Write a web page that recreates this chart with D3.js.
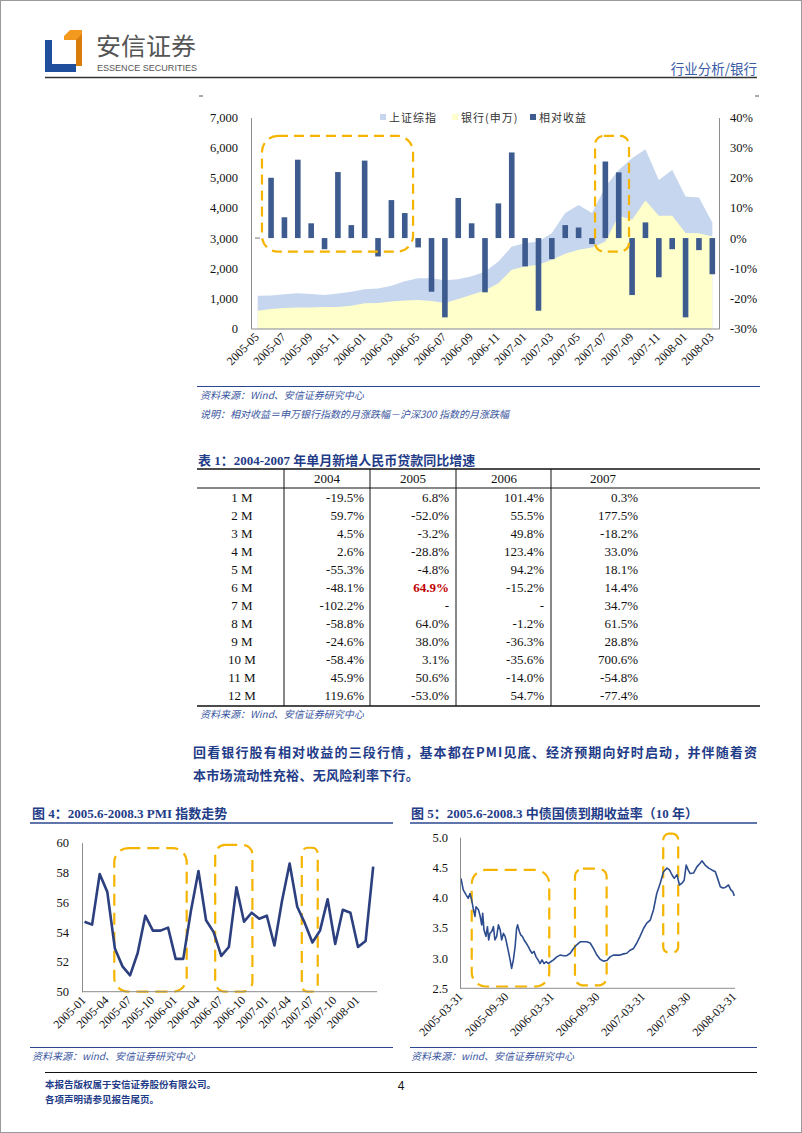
<!DOCTYPE html>
<html><head><meta charset="utf-8">
<script src="https://cdn.jsdelivr.net/npm/d3@7"></script>
<style>body{margin:0;background:#fff}svg{display:block}</style>
</head><body>
<svg id="page" width="802" height="1133"></svg>
<script>
// ---------- DATA ----------
const topMonths = ["2005-05","2005-06","2005-07","2005-08","2005-09","2005-10","2005-11","2005-12",
  "2006-01","2006-02","2006-03","2006-04","2006-05","2006-06","2006-07","2006-08","2006-09","2006-10","2006-11","2006-12",
  "2007-01","2007-02","2007-03","2007-04","2007-05","2007-06","2007-07","2007-08","2007-09","2007-10","2007-11","2007-12",
  "2008-01","2008-02","2008-03"];
const topTicks = ["2005-05","2005-07","2005-09","2005-11","2006-01","2006-03","2006-05","2006-07","2006-09",
  "2006-11","2007-01","2007-03","2007-05","2007-07","2007-09","2007-11","2008-01","2008-03"];
const shIndex = [1090,1095,1140,1170,1145,1110,1160,1220,1300,1330,1420,1570,1665,1670,1600,1630,1730,1880,
  2220,2720,2830,2890,3170,3830,4100,3830,4700,5260,5650,5950,4930,5260,4380,4350,3520];
const bankIndex = [590,645,680,698,698,712,712,755,840,845,898,930,944,910,845,975,1120,1260,
  1505,1950,2060,2115,2280,2480,2610,2690,2890,3740,3610,4250,3740,3740,3170,3160,3050];
const relReturn = [null,20.0,6.9,26.0,4.9,-3.7,21.9,4.3,25.7,-6.1,12.6,8.3,-3.1,-17.8,-26.3,13.3,4.9,-18.0,
  11.5,28.4,-9.4,-24.1,-7.0,4.3,3.5,-2.0,25.4,21.8,-18.9,5.2,-13.0,-3.7,-26.3,-4.0,-12.0];
const leftTicks = [0,1000,2000,3000,4000,5000,6000,7000];
const rightTicks = [-30,-20,-10,0,10,20,30,40];
const legendLabels = ["上证综指","银行(申万)","相对收益"];
const topBoxes = [{from:0.32,to:11.62,lo:-4.5,hi:33.9,r:16},{from:25.23,to:27.77,lo:-4.5,hi:33.9,r:9}];

const tableYears = ["2004","2005","2006","2007"];
const tableRows = ["1 M","2 M","3 M","4 M","5 M","6 M","7 M","8 M","9 M","10 M","11 M","12 M"];
const loan2004 = ["-19.5%","59.7%","4.5%","2.6%","-55.3%","-48.1%","-102.2%","-58.8%","-24.6%","-58.4%","45.9%","119.6%"];
const loan2005 = ["6.8%","-52.0%","-3.2%","-28.8%","-4.8%","64.9%","-","64.0%","38.0%","3.1%","50.6%","-53.0%"];
const loan2006 = ["101.4%","55.5%","49.8%","123.4%","94.2%","-15.2%","-","-1.2%","-36.3%","-35.6%","-14.0%","54.7%"];
const loan2007 = ["0.3%","177.5%","-18.2%","33.0%","18.1%","14.4%","34.7%","61.5%","28.8%","700.6%","-54.8%","-77.4%"];

const pmiMonths = ["2005-01","2005-02","2005-03","2005-04","2005-05","2005-06","2005-07","2005-08","2005-09","2005-10","2005-11","2005-12",
  "2006-01","2006-02","2006-03","2006-04","2006-05","2006-06","2006-07","2006-08","2006-09","2006-10","2006-11","2006-12",
  "2007-01","2007-02","2007-03","2007-04","2007-05","2007-06","2007-07","2007-08","2007-09","2007-10","2007-11","2007-12",
  "2008-01","2008-02","2008-03"];
const pmiTicks = ["2005-01","2005-04","2005-07","2005-10","2006-01","2006-04","2006-07","2006-10","2007-01","2007-04","2007-07","2007-10","2008-01"];
const pmiValues = [54.7,54.5,57.9,56.7,52.9,51.7,51.1,52.6,55.1,54.1,54.1,54.3,52.2,52.2,55.4,58.1,54.8,54.0,52.4,53.0,57.0,54.7,55.3,54.9,
  55.1,53.1,56.1,58.6,55.7,54.6,53.3,54.1,56.2,53.2,55.5,55.3,53.0,53.4,58.4];
const pmiYTicks = [50,52,54,56,58,60];
const pmiBoxes = [{from:3.92,to:13.45,lo:50,hi:59.64,r:14},{from:17.2,to:22.1,lo:50,hi:59.85,r:10},{from:28.6,to:30.7,lo:50,hi:59.66,r:6}];

const bondDates = ["2005-03-31","2005-04-09","2005-04-20","2005-04-29","2005-05-06","2005-05-13","2005-05-20","2005-05-26","2005-05-30",
  "2005-06-09","2005-06-15","2005-06-22","2005-06-26","2005-07-01","2005-07-09","2005-07-15","2005-07-20","2005-07-25","2005-08-01",
  "2005-08-08","2005-08-14","2005-08-21","2005-08-28","2005-09-04","2005-09-10","2005-09-17","2005-09-24","2005-09-30","2005-10-07",
  "2005-10-14","2005-10-20","2005-10-27","2005-11-03","2005-11-09","2005-11-13","2005-11-20","2005-11-26","2005-12-02","2005-12-09",
  "2005-12-17","2005-12-26","2006-01-02","2006-01-10","2006-01-18","2006-01-26","2006-02-03","2006-02-11","2006-02-19","2006-02-27",
  "2006-03-07","2006-03-17","2006-03-26","2006-04-06","2006-04-19","2006-05-02","2006-05-16","2006-05-29","2006-06-12","2006-06-25",
  "2006-07-08","2006-07-22","2006-08-04","2006-08-17","2006-08-31","2006-09-13","2006-09-27","2006-10-10","2006-10-23","2006-11-06",
  "2006-11-19","2006-12-02","2006-12-16","2006-12-29","2007-01-12","2007-01-25","2007-02-07","2007-02-21","2007-03-06","2007-03-19",
  "2007-04-02","2007-04-15","2007-04-29","2007-05-12","2007-05-25","2007-06-08","2007-06-21","2007-07-05","2007-07-15","2007-07-25",
  "2007-08-03","2007-08-14","2007-08-24","2007-09-03","2007-09-12","2007-09-20","2007-09-28","2007-10-06","2007-10-20","2007-11-02",
  "2007-11-15","2007-11-22","2007-12-05","2007-12-19","2008-01-01","2008-01-15","2008-01-24","2008-02-04","2008-02-14","2008-02-24",
  "2008-03-08","2008-03-17","2008-03-25","2008-03-31"];
const bondYield = [4.32,4.13,4.05,3.99,4.07,3.96,3.80,3.69,3.85,
  3.80,3.71,3.55,3.74,3.47,3.36,3.52,3.30,3.41,3.44,
  3.52,3.30,3.36,3.55,3.47,3.30,3.41,3.36,3.25,3.11,
  2.97,2.83,2.97,3.19,3.49,3.55,3.44,3.38,3.36,3.30,
  3.25,3.19,3.13,3.08,3.11,3.02,2.97,2.91,2.97,2.91,
  2.94,2.91,2.94,2.97,3.02,3.05,3.04,3.04,3.08,3.16,
  3.22,3.27,3.27,3.27,3.25,3.16,3.05,2.98,2.95,2.96,
  3.02,3.05,3.05,3.05,3.07,3.08,3.13,3.16,3.25,3.36,
  3.49,3.58,3.63,3.80,4.07,4.24,4.43,4.49,4.46,4.38,
  4.32,4.38,4.21,4.24,4.29,4.54,4.46,4.40,4.41,4.51,
  4.57,4.61,4.54,4.49,4.46,4.43,4.32,4.18,4.16,4.17,
  4.21,4.13,4.10,4.03];
const bondYTicks = [2.5,3.0,3.5,4.0,4.5,5.0];
const bondTicks = ["2005-03-31","2005-09-30","2006-03-31","2006-09-30","2007-03-31","2007-09-30","2008-03-31"];
const bondBoxes = [{from:"2005-05-13",to:"2006-03-20",lo:2.53,hi:4.46,r:14},{from:"2006-07-01",to:"2006-11-05",lo:2.55,hi:4.48,r:8},{from:"2007-06-20",to:"2007-08-19",lo:3.09,hi:5.06,r:6}];

// ---------- STYLE ----------
const SERIF = "'Liberation Serif','Times New Roman','Noto Sans CJK SC',serif";
const CJK = "'Noto Sans CJK SC','Liberation Serif',sans-serif";
const NAVY = "#1f3c88";
const SRC = "#3a56a0";
const BOX = "#f4b400";
const svg = d3.select("#page");

svg.append("rect").attr("x",0.5).attr("y",0.5).attr("width",801).attr("height",1132).attr("fill","#fff").attr("stroke","#9a9a9a");

// ---------- HEADER ----------
const logo = svg.append("g");
logo.append("polygon").attr("points","45,40 52,40 52,64 76,64 76,72 45,72").attr("fill","#1f4e9c");
logo.append("polygon").attr("points","64,36 70,30 82,30 82,66 76,66 76,40 64,40").attr("fill","#f39a1e");
logo.append("polygon").attr("points","76,40 82,34 82,66 76,66").attr("fill","#d97c0a");
svg.append("text").attr("x",96).attr("y",55).attr("font-family",CJK).attr("font-size",24).attr("fill","#555")
  .attr("textLength",100).attr("lengthAdjust","spacingAndGlyphs").text("安信证券");
svg.append("text").attr("x",97).attr("y",71).attr("font-family","'Liberation Sans Narrow','Liberation Sans',sans-serif")
  .attr("font-size",9.5).attr("fill","#555").attr("textLength",100).attr("lengthAdjust","spacingAndGlyphs").text("ESSENCE SECURITIES");
svg.append("text").attr("x",757).attr("y",74).attr("text-anchor","end").attr("font-family",CJK).attr("font-size",13.5).attr("fill","#3a5ba5").text("行业分析/银行");
svg.append("line").attr("x1",45).attr("x2",757).attr("y1",77.5).attr("y2",77.5).attr("stroke","#333").attr("stroke-width",1.6);
svg.append("line").attr("x1",199).attr("x2",203).attr("y1",96).attr("y2",96).attr("stroke","#555");
svg.append("line").attr("x1",755).attr("x2",759).attr("y1",96).attr("y2",96).attr("stroke","#555");

// ---------- TOP CHART ----------
const xTop = d3.scaleBand().domain(topMonths).range([251,719]);
const cTop = m => xTop(m) + xTop.bandwidth()/2;
const cTopIdx = k => cTop(topMonths[0]) + k*xTop.step();
const yL = d3.scaleLinear().domain([0,7000]).range([328.5,117.5]);
const yR = d3.scaleLinear().domain([-30,40]).range([328.5,117.5]);
const topG = svg.append("g");
const areaGen = d3.area().x(d=>cTop(d.m)).y0(yL(0)).y1(d=>yL(d.v));
topG.append("path").datum(topMonths.map((m,i)=>({m,v:shIndex[i]}))).attr("d",areaGen).attr("fill","#c6d6ee");
topG.append("path").datum(topMonths.map((m,i)=>({m,v:bankIndex[i]}))).attr("d",areaGen).attr("fill","#ffffcc");
topG.selectAll("rect.bar").data(topMonths.map((m,i)=>({m,v:relReturn[i]})).filter(d=>d.v!==null))
  .enter().append("rect").attr("class","bar")
  .attr("x",d=>cTop(d.m)-2.8).attr("width",5.6)
  .attr("y",d=>yR(Math.max(0,d.v))).attr("height",d=>Math.abs(yR(d.v)-yR(0)))
  .attr("fill","#3d5b8e");
topG.append("line").attr("x1",255).attr("x2",260).attr("y1",yR(0)).attr("y2",yR(0)).attr("stroke","#777");
topG.selectAll("rect.box").data(topBoxes).enter().append("rect").attr("class","box")
  .attr("x",d=>cTopIdx(d.from)).attr("width",d=>cTopIdx(d.to)-cTopIdx(d.from))
  .attr("y",d=>yR(d.hi)).attr("height",d=>yR(d.lo)-yR(d.hi)).attr("rx",d=>d.r)
  .attr("fill","none").attr("stroke",BOX).attr("stroke-width",2.2).attr("stroke-dasharray","10,6");

function styleAxis(g){
  g.select(".domain").attr("stroke","#8c8c8c");
  g.selectAll("text").attr("font-family",SERIF).attr("fill","#111");
}
const axL = topG.append("g").attr("transform","translate(251,0)")
  .call(d3.axisLeft(yL).tickValues(leftTicks).tickFormat(d3.format(",")).tickSize(0).tickSizeOuter(0).tickPadding(13));
styleAxis(axL); axL.selectAll("text").attr("font-size",12.5);
const axR = topG.append("g").attr("transform","translate(719,0)")
  .call(d3.axisRight(yR).tickValues(rightTicks).tickFormat(d=>d+"%").tickSize(0).tickSizeOuter(0).tickPadding(11));
styleAxis(axR); axR.selectAll("text").attr("font-size",12.5);
const axB = topG.append("g").attr("transform","translate(0,328.5)")
  .call(d3.axisBottom(xTop).tickValues(topTicks).tickSize(0).tickSizeOuter(0));
styleAxis(axB);
axB.selectAll("text").attr("font-size",12).attr("text-anchor","end").attr("dy",null)
  .attr("x",-5).attr("y",8).attr("transform","rotate(-45)");

// legend
const lg = topG.append("g").attr("font-family",CJK).attr("font-size",11).attr("fill","#333");
const lgItems = [{x:380,c:"#c6d6ee"},{x:452,c:"#ffffcc"},{x:530,c:"#3d5b8e"}];
lgItems.forEach((it,i)=>{
  lg.append("rect").attr("x",it.x).attr("y",114).attr("width",6).attr("height",6).attr("fill",it.c);
  lg.append("text").attr("x",it.x+9).attr("y",121.5).attr("letter-spacing",1).text(legendLabels[i]);
});

svg.append("line").attr("x1",197).attr("x2",760).attr("y1",386.5).attr("y2",386.5).attr("stroke","#2b4790").attr("stroke-width",1);
svg.append("text").attr("x",200).attr("y",399).attr("font-family",CJK).attr("font-style","italic").attr("font-size",10).attr("fill",SRC).text("资料来源：Wind、安信证券研究中心");
svg.append("text").attr("x",200).attr("y",418).attr("font-family",CJK).attr("font-style","italic").attr("font-size",10).attr("fill",SRC).text("说明：相对收益＝申万银行指数的月涨跌幅－沪深300 指数的月涨跌幅");

// ---------- TABLE ----------
svg.append("text").attr("x",198).attr("y",465).attr("font-family",SERIF).attr("font-weight","bold").attr("font-size",13).attr("fill",NAVY)
  .text("表 1：2004-2007 年单月新增人民币贷款同比增速");
const tb = svg.append("g").attr("font-family",SERIF).attr("font-size",13).attr("fill","#111");
tb.append("line").attr("x1",197).attr("x2",760).attr("y1",469).attr("y2",469).attr("stroke","#111").attr("stroke-width",1.6);
tb.append("line").attr("x1",197).attr("x2",760).attr("y1",488).attr("y2",488).attr("stroke","#111").attr("stroke-width",1);
tb.append("line").attr("x1",197).attr("x2",760).attr("y1",706).attr("y2",706).attr("stroke","#111").attr("stroke-width",1.6);
const colLines = [284,370,456,551];
colLines.forEach(x=>tb.append("line").attr("x1",x).attr("x2",x).attr("y1",469).attr("y2",706).attr("stroke","#111").attr("stroke-width",1));
const headX = [327,413,504,603];
tableYears.forEach((y,i)=>tb.append("text").attr("x",headX[i]).attr("y",483).attr("text-anchor","middle").text(y));
const valX = [364,449,544,638];
const cols = [loan2004,loan2005,loan2006,loan2007];
tableRows.forEach((r,j)=>{
  const yy = 502 + j*18;
  tb.append("text").attr("x",242).attr("y",yy).attr("text-anchor","middle").text(r);
  cols.forEach((col,i)=>{
    const t = tb.append("text").attr("x",valX[i]).attr("y",yy).attr("text-anchor","end").text(col[j]);
    if(i===1 && j===5) t.attr("fill","#c00000").attr("font-weight","bold");
  });
});
svg.append("text").attr("x",200).attr("y",718).attr("font-family",CJK).attr("font-style","italic").attr("font-size",10).attr("fill",SRC).text("资料来源：Wind、安信证券研究中心");

// ---------- PARAGRAPH ----------
svg.append("text").attr("x",193).attr("y",757).attr("font-family",CJK).attr("font-weight","bold").attr("font-size",13).attr("fill",NAVY)
  .attr("textLength",564).attr("lengthAdjust","spacing").text("回看银行股有相对收益的三段行情，基本都在PMI见底、经济预期向好时启动，并伴随着资");
svg.append("text").attr("x",193).attr("y",780).attr("font-family",CJK).attr("font-weight","bold").attr("font-size",13).attr("fill",NAVY)
  .attr("letter-spacing",0.3).text("本市场流动性充裕、无风险利率下行。");

// ---------- FIGURE TITLES ----------
svg.append("text").attr("x",32).attr("y",818).attr("font-family",SERIF).attr("font-weight","bold").attr("font-size",13).attr("fill",NAVY).text("图 4：2005.6-2008.3 PMI 指数走势");
svg.append("line").attr("x1",30).attr("x2",393).attr("y1",823).attr("y2",823).attr("stroke","#2b4790").attr("stroke-width",1.5);
svg.append("text").attr("x",411).attr("y",818).attr("font-family",SERIF).attr("font-weight","bold").attr("font-size",13).attr("fill",NAVY).text("图 5：2005.6-2008.3 中债国债到期收益率（10 年）");
svg.append("line").attr("x1",410).attr("x2",757).attr("y1",823).attr("y2",823).attr("stroke","#2b4790").attr("stroke-width",1.5);

// ---------- PMI CHART ----------
const xP = d3.scaleBand().domain(pmiMonths).range([80.7,377]);
const cP = m => xP(m) + xP.bandwidth()/2;
const cPIdx = k => cP(pmiMonths[0]) + k*xP.step();
const yP = d3.scaleLinear().domain([50,60]).range([991.7,842.7]);
const pm = svg.append("g");
pm.selectAll("rect.box").data(pmiBoxes).enter().append("rect").attr("class","box")
  .attr("x",d=>cPIdx(d.from)).attr("width",d=>cPIdx(d.to)-cPIdx(d.from))
  .attr("y",d=>yP(d.hi)).attr("height",d=>yP(d.lo)-yP(d.hi)).attr("rx",d=>d.r)
  .attr("fill","none").attr("stroke",BOX).attr("stroke-width",2.2).attr("stroke-dasharray","12,7");
pm.append("path").datum(pmiMonths.map((m,i)=>({m,v:pmiValues[i]})))
  .attr("d",d3.line().x(d=>cP(d.m)).y(d=>yP(d.v))).attr("fill","none").attr("stroke","#2c3f7f").attr("stroke-width",2.6).attr("stroke-linejoin","round");
const pL = pm.append("g").attr("transform","translate(82,0)")
  .call(d3.axisLeft(yP).tickValues(pmiYTicks).tickSize(0).tickSizeOuter(0).tickPadding(13));
styleAxis(pL); pL.selectAll("text").attr("font-size",12.5);
const pB = pm.append("g").attr("transform","translate(0,991.7)")
  .call(d3.axisBottom(xP).tickValues(pmiTicks).tickSize(0).tickSizeOuter(0));
pB.select(".domain").attr("d","M82,0H377");
styleAxis(pB);
pB.selectAll("text").attr("font-size",12).attr("text-anchor","end").attr("dy",null)
  .attr("x",-5).attr("y",8).attr("transform","rotate(-45)");
svg.append("line").attr("x1",30).attr("x2",393).attr("y1",1047.5).attr("y2",1047.5).attr("stroke","#2b4790").attr("stroke-width",1);
svg.append("text").attr("x",32).attr("y",1060).attr("font-family",CJK).attr("font-style","italic").attr("font-size",10).attr("fill",SRC).text("资料来源：wind、安信证券研究中心");

// ---------- BOND CHART ----------
const parse = d3.timeParse("%Y-%m-%d");
const xB = d3.scaleTime().domain([parse("2005-03-31"),parse("2008-03-31")]).range([461,734.3]);
const yB = d3.scaleLinear().domain([2.5,5.0]).range([988.3,837.3]);
const bd = svg.append("g");
bd.selectAll("rect.box").data(bondBoxes).enter().append("rect").attr("class","box")
  .attr("x",d=>xB(parse(d.from))).attr("width",d=>xB(parse(d.to))-xB(parse(d.from)))
  .attr("y",d=>yB(d.hi)).attr("height",d=>yB(d.lo)-yB(d.hi)).attr("rx",d=>d.r)
  .attr("fill","none").attr("stroke",BOX).attr("stroke-width",2.2).attr("stroke-dasharray","12,7");
bd.append("path").datum(bondDates.map((d,i)=>({d:parse(d),v:bondYield[i]})))
  .attr("d",d3.line().x(d=>xB(d.d)).y(d=>yB(d.v))).attr("fill","none").attr("stroke","#2e4d8f").attr("stroke-width",1.6).attr("stroke-linejoin","round");
const bL = bd.append("g").attr("transform","translate(460,0)")
  .call(d3.axisLeft(yB).tickValues(bondYTicks).tickFormat(d3.format(".1f")).tickSize(0).tickSizeOuter(0).tickPadding(12));
styleAxis(bL); bL.selectAll("text").attr("font-size",12.5);
const bB = bd.append("g").attr("transform","translate(0,988.3)")
  .call(d3.axisBottom(xB).tickValues(bondTicks.map(parse)).tickFormat(d3.timeFormat("%Y-%m-%d")).tickSize(0).tickSizeOuter(0));
bB.select(".domain").attr("d","M460,0H735");
styleAxis(bB);
bB.selectAll("text").attr("font-size",12).attr("text-anchor","end").attr("dy",null)
  .attr("x",-5).attr("y",8).attr("transform","rotate(-45)");
svg.append("line").attr("x1",410).attr("x2",757).attr("y1",1047.5).attr("y2",1047.5).attr("stroke","#2b4790").attr("stroke-width",1);
svg.append("text").attr("x",411).attr("y",1060).attr("font-family",CJK).attr("font-style","italic").attr("font-size",10).attr("fill",SRC).text("资料来源：wind、安信证券研究中心");

// ---------- FOOTER ----------
svg.append("line").attr("x1",45).attr("x2",757).attr("y1",1072.5).attr("y2",1072.5).attr("stroke","#111").attr("stroke-width",1.2);
svg.append("text").attr("x",45).attr("y",1088).attr("font-family",CJK).attr("font-weight","bold").attr("font-size",9.5).attr("fill",NAVY).text("本报告版权属于安信证券股份有限公司。");
svg.append("text").attr("x",45).attr("y",1103).attr("font-family",CJK).attr("font-weight","bold").attr("font-size",9.5).attr("fill",NAVY).text("各项声明请参见报告尾页。");
svg.append("text").attr("x",401).attr("y",1090).attr("text-anchor","middle").attr("font-family","'Liberation Sans',sans-serif").attr("font-size",12).attr("fill","#111").text("4");
</script>
</body></html>
